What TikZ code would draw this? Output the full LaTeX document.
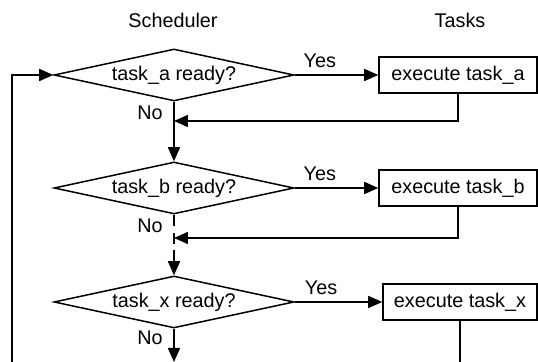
\documentclass[tikz,border=0pt]{standalone}
\usepackage{fontspec}
\setmainfont{Liberation Sans}
\usetikzlibrary{shapes.geometric,arrows.meta}

\begin{document}
\begin{tikzpicture}[x=0.5pt,y=-0.5pt,line width=0.75pt,
  every node/.style={font=\fontsize{9.9}{11}\selectfont},
  decision/.style={diamond,draw,aspect=4.6,inner sep=0pt,minimum width=120pt,minimum height=26pt},
  taskbox/.style={rectangle,draw,inner sep=0pt,minimum height=18pt},
  flow/.style={-{Triangle[length=7pt,width=6pt]}}]
\useasboundingbox (0,0) rectangle (538,362);

% column headings
\node (sched) at (173,20) {Scheduler};
\node (tasks) at (460,20) {Tasks};

% the checks of the scheduler
\node[decision] (da) at (174,75) {task\_a ready?};
\node[decision] (db) at (174,188) {task\_b ready?};
\node[decision] (dx) at (174,302) {task\_x ready?};

% the tasks
\node[taskbox,minimum width=79pt] (ba) at (458,75) {execute task\_a};
\node[taskbox,minimum width=79pt] (bb) at (458,188) {execute task\_b};
\node[taskbox,minimum width=77pt] (bx) at (460,302) {execute task\_x};

% points where the lines meet or leave the picture
\coordinate (ja) at (174,121);
\coordinate (jb) at (174,238);
\coordinate (gap) at (174,250);
\coordinate (xend) at (174,362);
\coordinate (tend) at (460,362);
\coordinate (loop) at (12,362);

% yes branches
\draw[flow] (da.east) -- node[pos=0.3,above] {Yes} (ba.west);
\draw[flow] (db.east) -- node[pos=0.3,above] {Yes} (bb.west);
\draw[flow] (dx.east) -- node[pos=0.3,above] {Yes} (bx.west);

% no branches
\draw[flow] (da.south) -- node[pos=0.18,left,xshift=-2pt] {No} (db.north);
\draw[dash pattern=on 5.5pt off 3.5pt] (db.south) -- node[pos=0.3,left,xshift=-2pt] {No} (gap);
\draw[flow] (gap) -- (dx.north);
\draw[flow] (dx.south) -- node[pos=0.26,left,xshift=-2pt] {No} (xend);

% back from the tasks
\draw[flow] (ba.south) |- (ja);
\draw[flow] (bb.south) |- (jb);
\draw (bx.south) -- (tend);

% round again
\draw[flow] (loop) |- (da.west);
\end{tikzpicture}
\end{document}
